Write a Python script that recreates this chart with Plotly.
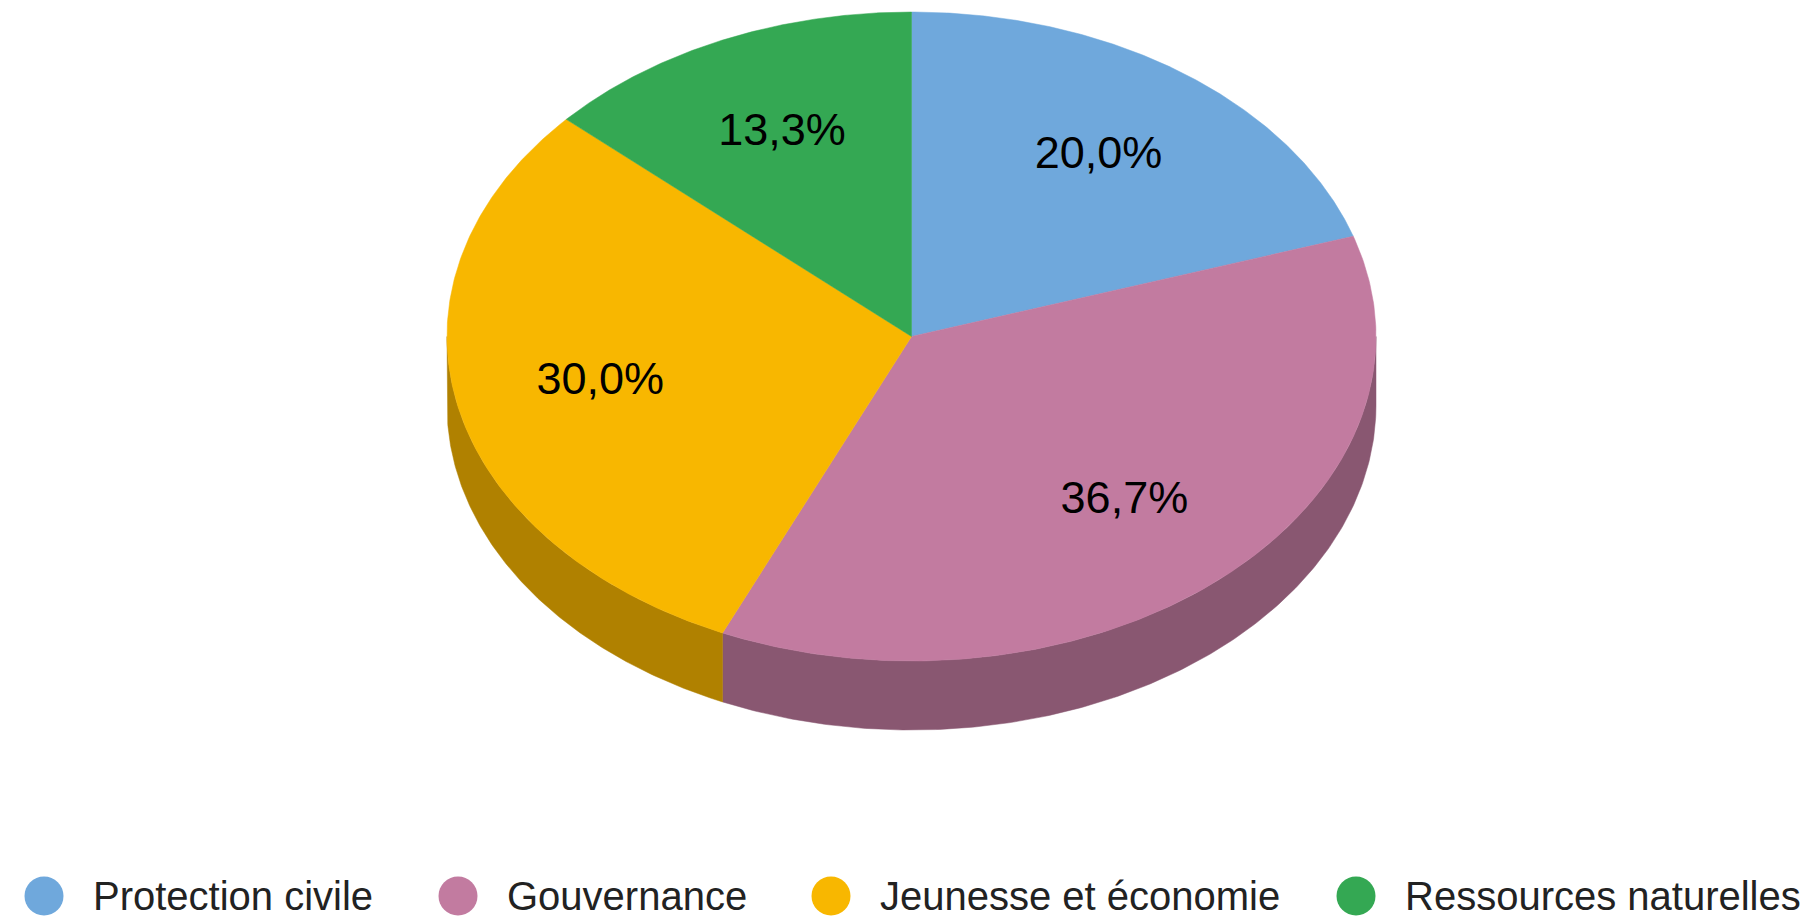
import numpy as np
import plotly.graph_objects as go

# data
categories = ["Protection civile", "Gouvernance", "Jeunesse et économie", "Ressources naturelles"]
values = [6, 11, 9, 4]
pct_labels = ["20,0%", "36,7%", "30,0%", "13,3%"]
colors = ["#6fa8dc", "#c27ba0", "#f8b700", "#34a853"]

# geometry of the tilted pie (pixels)
W, H = 1809, 917
off = 8  # page body margin
cx, cy = 911.5, 336.5
rx, ry = 464.5, 324.5
depth = 69
label_r = 0.685
side_k = 0.71


def darken(hx, k):
    r, g, b = int(hx[1:3], 16), int(hx[3:5], 16), int(hx[5:7], 16)
    return "rgb(%d,%d,%d)" % (r * k, g * k, b * k)


def arc(a0, a1, dy=0.0, n=200):
    t = np.radians(np.linspace(a0, a1, n))
    return cx + rx * np.sin(t), cy - ry * np.cos(t) + dy


fracs = np.array(values, dtype=float) / sum(values)
ends = np.cumsum(fracs) * 360
starts = ends - fracs * 360

fig = go.Figure()

# side walls (front half only: 90..270 deg clockwise from top)
for s, e, c in zip(starts, ends, colors):
    a0, a1 = max(s, 90), min(e, 270)
    if a1 <= a0:
        continue
    xt, yt = arc(a0, a1)
    xb, yb = arc(a1, a0, dy=depth)
    fig.add_trace(go.Scatter(x=np.r_[xt, xb, xt[:1]], y=np.r_[yt, yb, yt[:1]],
                             mode="lines", fill="toself", fillcolor=darken(c, side_k),
                             line=dict(width=0.5, color=darken(c, side_k)),
                             hoverinfo="skip", showlegend=False))

# top faces
for s, e, c, name in zip(starts, ends, colors, categories):
    xa, ya = arc(s, e)
    fig.add_trace(go.Scatter(x=np.r_[cx, xa, cx], y=np.r_[cy, ya, cy],
                             mode="lines", fill="toself", fillcolor=c,
                             line=dict(width=0.5, color=c),
                             name=name, showlegend=False))

# percent labels
mids = np.radians((starts + ends) / 2)
fig.add_trace(go.Scatter(x=cx + label_r * rx * np.sin(mids),
                         y=cy - label_r * ry * np.cos(mids),
                         mode="text", text=pct_labels, textposition="middle center",
                         textfont=dict(family="Arial, Liberation Sans", size=45, color="#000000"),
                         hoverinfo="skip", showlegend=False))

# legend at the bottom
leg_x = [44, 458, 831, 1356]
leg_y = 896
fig.add_trace(go.Scatter(x=leg_x, y=[leg_y] * 4, mode="markers",
                         marker=dict(size=39, color=colors, line=dict(width=0)),
                         hoverinfo="skip", showlegend=False))
for x, name in zip(leg_x, categories):
    fig.add_annotation(x=x + 47, y=leg_y, text=name, showarrow=False,
                       xanchor="left", yanchor="middle",
                       font=dict(family="Arial, Liberation Sans", size=40, color="#222222"))

fig.update_xaxes(range=[off, W + off], visible=False, fixedrange=True)
fig.update_yaxes(range=[H + off, off], visible=False, fixedrange=True)
fig.update_layout(width=W, height=H, margin=dict(l=0, r=0, t=0, b=0),
                  plot_bgcolor="white", paper_bgcolor="white", showlegend=False)

fig.write_html("out.html")
